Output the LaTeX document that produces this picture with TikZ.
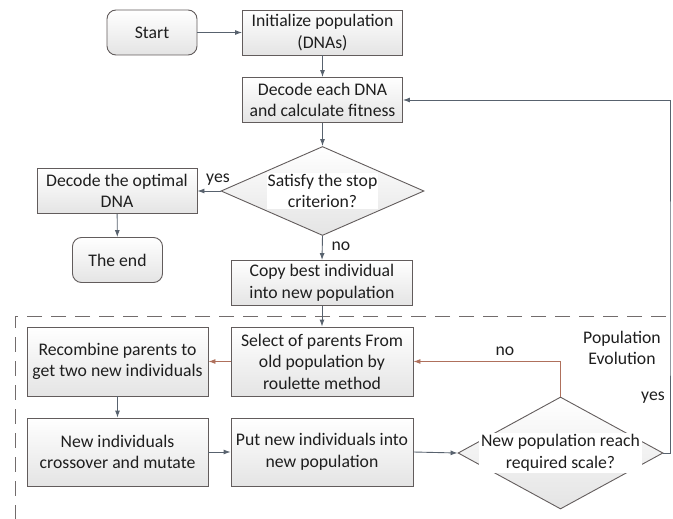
\documentclass[tikz,border=0pt]{standalone}
\usepackage{fontspec}
\setmainfont{Carlito}
\usetikzlibrary{shapes.geometric, arrows.meta}

\definecolor{edgec}{RGB}{98,92,92}
\definecolor{linec}{RGB}{88,98,110}
\definecolor{redc}{RGB}{175,112,92}
\definecolor{boxbot}{RGB}{228,228,228}
\definecolor{txtc}{RGB}{30,30,30}

\tikzset{
  txtfont/.style={font=\fontsize{17.7}{21.5}\selectfont},
  base/.style={draw=edgec, line width=0.9pt, top color=white, bottom color=boxbot,
    align=center, inner sep=0pt, text=txtc, txtfont},
  procbox/.style={base, minimum width=#1, minimum height=45},
  procbox/.default=160,
  termbox/.style={base, rounded corners=9pt, minimum width=90, minimum height=45},
  decision/.style={draw=edgec, line width=0.9pt, shape=diamond, inner sep=0pt,
    top color=white, bottom color=boxbot, minimum width=#1},
  dectext/.style={fill=white, inner sep=1pt, align=center, text=txtc, txtfont},
  conn/.style={draw=linec, line width=0.9pt, -{Latex[length=7pt,width=5pt]}},
  redconn/.style={conn, draw=redc},
  lbl/.style={text=txtc, txtfont, align=center},
  zone/.style={draw=edgec!90, line width=1pt, dash pattern=on 15pt off 9pt}
}

\begin{document}
\begin{tikzpicture}[x=1pt, y=-1pt]
  \useasboundingbox (0,0) rectangle (673,519);

  % upper part of the flow
  \node[termbox] (start) at (152,32.5) {Start};
  \node[procbox] (init) at (322.5,32.5) {Initialize population\\(DNAs)};
  \node[procbox] (decode) at (322.5,100) {Decode each DNA\\and calculate fitness};
  \node[decision=203, minimum height=89] (stop) at (322.5,191) {};
  \node[dectext] (stoptxt) at (stop.center) {Satisfy the stop\\criterion?};
  \node[procbox] (optimal) at (117,191) {Decode the optimal\\DNA};
  \node[termbox] (theend) at (117.5,260) {The end};
  \node[procbox=181] (copy) at (322,283) {Copy best individual\\into new population};

  % evolution zone border
  \coordinate (zoneA) at (15,316);
  \coordinate (zoneB) at (666,316);
  \coordinate (zoneC) at (15,519);
  \draw[zone] (zoneB) -- (zoneA) -- (zoneC);

  % evolution loop
  \node[procbox=182, minimum height=69] (select) at (322,361.5) {Select of parents From\\old population by\\roulette method};
  \node[procbox=181, minimum height=69] (recomb) at (117.5,361.5) {Recombine parents to\\get two new individuals};
  \node[procbox=181, minimum height=68] (newind) at (117.5,452) {New individuals\\crossover and mutate};
  \node[procbox=182, minimum height=68] (put) at (322,452) {Put new individuals into\\new population};
  \node[decision=205, minimum height=112] (scale) at (560.5,453) {};
  \node[dectext, inner xsep=2pt, inner ysep=2pt] (scaletxt) at (scale.center) {New population reach\\required scale?};

  % labels
  \node[lbl] (yesA) at (218,180) {yes};
  \node[lbl] (noA) at (341,246) {no};
  \node[lbl] (noB) at (505,351) {no};
  \node[lbl] (yesB) at (653,398) {yes};
  \node[lbl] (zonelbl) at (622,348) {Population\\Evolution};

  % connectors
  \draw[conn] (start) -- (init);
  \draw[conn] (init) -- (decode);
  \draw[conn] (decode) -- (stop);
  \draw[conn] (stop.west) -- (optimal.east);
  \draw[conn] (optimal) -- (theend);
  \draw[conn] (stop.south) -- (copy.north);
  \draw[conn] (copy.south) -- (select.north);
  \draw[redconn] (select.west) -- (recomb.east);
  \draw[conn] (recomb) -- (newind);
  \draw[conn] (newind) -- (put);
  \draw[conn] (put.east) -- (scale.west);
  \draw[redconn] (scale.north) |- (select.east);
  \coordinate (loop) at (670,300);
  \draw[conn] (scale.east) -| (loop) |- (decode.east);
\end{tikzpicture}
\end{document}
